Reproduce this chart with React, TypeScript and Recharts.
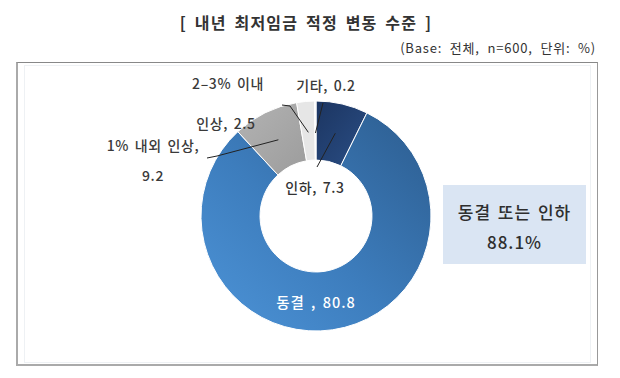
import { PieChart, Pie, Cell } from "recharts";

const TITLE = "[ 내년 최저임금 적정 변동 수준 ]";
const SUBTITLE = "(Base: 전체, n=600, 단위: %)";

const SLICE_NAMES = ["인하", "동결", "1% 내외 인상", "2–3% 이내 인상", "기타"];
const SLICE_VALUES = [7.3, 80.8, 9.2, 2.5, 0.2];
const SLICE_FILLS = ["url(#gNavy)", "url(#gBlue)", "url(#gGray)", "#e6e6e6", "#f7f7f7"];

const SUMMARY_LABEL = "동결 또는 인하";
const SUMMARY_VALUE = 88.1;

const data = SLICE_NAMES.map((name, i) => ({ name, value: SLICE_VALUES[i] }));

const FONT = "'Noto Sans CJK KR', 'Noto Sans', sans-serif";
const RAD = Math.PI / 180;
const TXT = "#3a3a3a";

function renderLabel(props: any) {
  const { cx, cy, midAngle, index, value } = props;
  const at = (r: number) => [
    cx + r * Math.cos(-midAngle * RAD),
    cy + r * Math.sin(-midAngle * RAD),
  ];
  const common = {
    fontFamily: FONT,
    fontSize: 14,
    fontWeight: 500,
    fill: TXT,
    letterSpacing: 0.6,
    wordSpacing: 2,
    textAnchor: "middle" as const,
    dominantBaseline: "central" as const,
  };
  const line = (pts: number[][]) => (
    <polyline
      points={pts.map((p) => p.join(",")).join(" ")}
      fill="none"
      stroke="#222"
      strokeWidth={1}
    />
  );
  if (index === 0) {
    const a = at(85);
    return (
      <g key="l0">
        {line([a, [cx + 1, cy - 49]])}
        <text x={cx - 1} y={cy - 29} {...common} fill="#333">
          {`인하, ${value}`}
        </text>
      </g>
    );
  }
  if (index === 1) {
    return (
      <text key="l1" x={cx} y={cy + 85} {...common} fontSize={14.5} letterSpacing={1} fill="#fff">
        {`동결 , ${value}`}
      </text>
    );
  }
  if (index === 2) {
    const a = at(85);
    return (
      <g key="l2">
        {line([a, [cx - 99, cy - 60], [cx - 109, cy - 58]])}
        <text x={cx - 163} y={cy - 71} {...common}>1% 내외 인상,</text>
        <text x={cx - 163} y={cy - 41} {...common}>{value}</text>
      </g>
    );
  }
  if (index === 3) {
    const a = at(84);
    return (
      <g key="l3">
        {line([a, [cx - 26, cy - 110], [cx - 34, cy - 111]])}
        <text x={cx - 88} y={cy - 133} {...common}>2–3% 이내</text>
        <text x={cx - 90} y={cy - 93} {...common}>{`인상, ${value}`}</text>
      </g>
    );
  }
  const a = at(83);
  return (
    <g key="l4">
      {line([a, [cx + 7, cy - 113]])}
      <text x={cx + 10} y={cy - 131} {...common}>{`기타, ${value}`}</text>
    </g>
  );
}

export default function App() {
  return (
    <div style={{ position: "relative", width: 620, height: 378, background: "#fff", fontFamily: FONT }}>
      <style>{`body{margin:0}`}</style>
      <div
        style={{
          position: "absolute",
          left: 0,
          width: 612,
          top: 10,
          textAlign: "center",
          fontSize: 16,
          fontWeight: 700,
          color: "#333",
          letterSpacing: 1.2,
          wordSpacing: 3,
          whiteSpace: "pre",
        }}
      >
        {TITLE}
      </div>
      <div
        style={{
          position: "absolute",
          right: 24,
          top: 38,
          fontSize: 13,
          color: "#333",
          letterSpacing: 0.8,
          wordSpacing: 4,
        }}
      >
        {SUBTITLE}
      </div>
      <div
        style={{
          position: "absolute",
          left: 16,
          top: 62,
          width: 579,
          height: 301,
          borderTop: "1px solid #888",
          borderRight: "1px solid #999",
          borderLeft: "2px solid #aaa",
          borderBottom: "2px solid #aaa",
        }}
      />
      <div
        style={{
          position: "absolute",
          left: 24,
          top: 65,
          width: 565,
          height: 296,
          border: "1px solid #eef1f4",
        }}
      />
      <div
        style={{
          position: "absolute",
          left: 443,
          top: 185,
          width: 143,
          height: 79,
          background: "#dae5f3",
          color: "#2e2e2e",
          fontSize: 17,
          fontWeight: 500,
          letterSpacing: 1,
          wordSpacing: 2,
          textAlign: "center",
        }}
      >
        <div style={{ position: "absolute", left: 0, right: 0, top: 14 }}>{SUMMARY_LABEL}</div>
        <div style={{ position: "absolute", left: 0, right: 0, top: 44 }}>{`${SUMMARY_VALUE}%`}</div>
      </div>
      <div style={{ position: "absolute", left: 0, top: 0 }}>
        <PieChart width={620} height={378}>
          <defs>
            <linearGradient id="gNavy" x1="0" y1="0" x2="1" y2="1">
              <stop offset="0%" stopColor="#1c3561" />
              <stop offset="100%" stopColor="#2a4e85" />
            </linearGradient>
            <linearGradient id="gBlue" x1="1" y1="0" x2="0" y2="1">
              <stop offset="0%" stopColor="#2c5c8e" />
              <stop offset="55%" stopColor="#3d7dbd" />
              <stop offset="100%" stopColor="#4d94d8" />
            </linearGradient>
            <linearGradient id="gGray" x1="0" y1="0" x2="1" y2="1">
              <stop offset="0%" stopColor="#b3b3b3" />
              <stop offset="100%" stopColor="#9c9c9c" />
            </linearGradient>
          </defs>
          <Pie
            data={data}
            dataKey="value"
            nameKey="name"
            cx={311}
            cy={211}
            innerRadius={56}
            outerRadius={115}
            startAngle={90}
            endAngle={-270}
            stroke="#fff"
            strokeWidth={1}
            label={renderLabel}
            labelLine={false}
            isAnimationActive={false}
          >
            {data.map((d, i) => (
              <Cell key={d.name} fill={SLICE_FILLS[i]} />
            ))}
          </Pie>
        </PieChart>
      </div>
    </div>
  );
}
